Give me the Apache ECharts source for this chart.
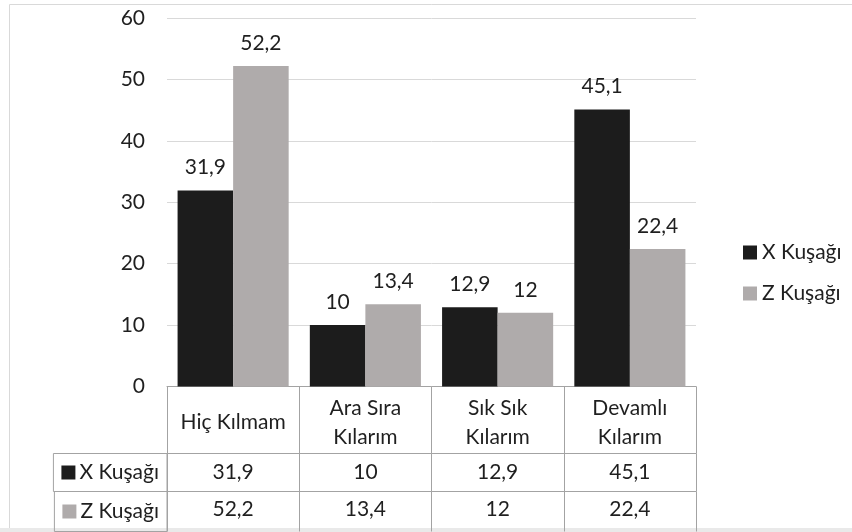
<!DOCTYPE html>
<html>
<head>
<meta charset="utf-8">
<script src="https://cdn.jsdelivr.net/npm/echarts@6/dist/echarts.min.js"></script>
<style>
  html, body { margin: 0; padding: 0; background: #fff; }
  #chart { width: 852px; height: 532px; }
</style>
</head>
<body>
<div id="chart"></div>
<script>
const CATEGORIES = ["Hiç Kılmam", "Ara Sıra\nKılarım", "Sık Sık\nKılarım", "Devamlı\nKılarım"];
const SERIES_NAMES = ["X Kuşağı", "Z Kuşağı"];
const X_KUSAGI = [31.9, 10, 12.9, 45.1];
const Z_KUSAGI = [52.2, 13.4, 12, 22.4];
const Y_TICKS = [0, 10, 20, 30, 40, 50, 60];

const COLORS = ["#1c1c1c", "#afabab"];
const TEXT = "#1f1f1f";
const TABLE_LINE = "#a3a3a3";
const FONT = "Lato";
const FS = 21;

function comma(v) {
  return String(v).replace(".", ",");
}

// one row of the data table, drawn as an extra category axis under the plot
function tableRow(name, values, color, offset, rowHeight, margin) {
  return {
    type: "category",
    gridIndex: 0,
    position: "bottom",
    offset: offset,
    data: values,
    axisLine: { lineStyle: { color: TABLE_LINE, width: 1 } },
    axisTick: { show: true, interval: 0, length: rowHeight, lineStyle: { color: TABLE_LINE } },
    axisLabel: {
      interval: 0,
      margin: margin,
      color: TEXT,
      fontFamily: FONT,
      fontSize: FS,
      lineHeight: 24,
      formatter: comma,
    },
    name: "{m|}{t|" + name + "}",
    nameLocation: "start",
    nameGap: 0,
    nameTextStyle: {
      align: "right",
      verticalAlign: "top",
      width: 99,
      height: rowHeight,
      padding: [0, 8, 0, 8],
      borderColor: TABLE_LINE,
      borderWidth: 1,
      rich: {
        m: { align: "left", width: 14, height: 14, backgroundColor: color },
        t: {
          align: "left",
          color: TEXT,
          fontFamily: FONT,
          fontSize: FS,
          lineHeight: rowHeight,
          padding: [0, 0, 0, 4],
        },
      },
    },
  };
}

function renderChart() {
  const chart = echarts.init(document.getElementById("chart"));

  const option = {
    animation: false,
    textStyle: { fontFamily: FONT },
    graphic: [
      {
        type: "rect",
        shape: { x: 9.5, y: 4.5, width: 900, height: 600 },
        style: { fill: null, stroke: "#d9d9d9", lineWidth: 1 },
        silent: true,
      },
      {
        type: "rect",
        shape: { x: 0, y: 528, width: 852, height: 4 },
        style: { fill: "#e9e9e9" },
        silent: true,
      },
    ],
    grid: { left: 167, right: 156, top: 18, bottom: 145, containLabel: false },
    legend: {
      orient: "vertical",
      left: 738,
      top: 237,
      icon: "rect",
      itemWidth: 14,
      itemHeight: 14,
      itemGap: 20,
      textStyle: { color: TEXT, fontFamily: FONT, fontSize: FS, lineHeight: 20 },
      data: SERIES_NAMES,
    },
    xAxis: [
      {
        type: "category",
        data: CATEGORIES,
        axisLine: { lineStyle: { color: TABLE_LINE, width: 1 } },
        axisTick: { show: true, interval: 0, length: 67, lineStyle: { color: TABLE_LINE } },
        axisLabel: {
          interval: 0,
          margin: 7,
          color: TEXT,
          fontFamily: FONT,
          fontSize: FS,
          lineHeight: 29,
          formatter: (v) => (v.indexOf("\n") < 0 ? "{one|" + v + "}" : v),
          rich: {
            one: { color: TEXT, fontFamily: FONT, fontSize: FS, lineHeight: 58 },
          },
        },
      },
      tableRow(SERIES_NAMES[0], X_KUSAGI, COLORS[0], 67, 38, 7),
      tableRow(SERIES_NAMES[1], Z_KUSAGI, COLORS[1], 105, 40, 6),
    ],
    yAxis: {
      type: "value",
      min: Y_TICKS[0],
      max: Y_TICKS[Y_TICKS.length - 1],
      interval: Y_TICKS[1] - Y_TICKS[0],
      axisLine: { show: false },
      axisTick: { show: false },
      axisLabel: { color: TEXT, fontFamily: FONT, fontSize: FS, margin: 22 },
      splitLine: { lineStyle: { color: "#d9d9d9", width: 1 } },
    },
    series: [X_KUSAGI, Z_KUSAGI].map((values, i) => ({
      name: SERIES_NAMES[i],
      type: "bar",
      xAxisIndex: 0,
      data: values,
      barGap: "0%",
      barCategoryGap: "16%",
      itemStyle: { color: COLORS[i] },
      label: {
        show: true,
        position: "top",
        distance: 13,
        color: TEXT,
        fontFamily: FONT,
        fontSize: FS,
        lineHeight: 20,
        formatter: (p) => comma(p.value),
      },
    })),
  };

  chart.setOption(option);
}

document.addEventListener("DOMContentLoaded", function () {
  renderChart();
});
</script>
</body>
</html>
